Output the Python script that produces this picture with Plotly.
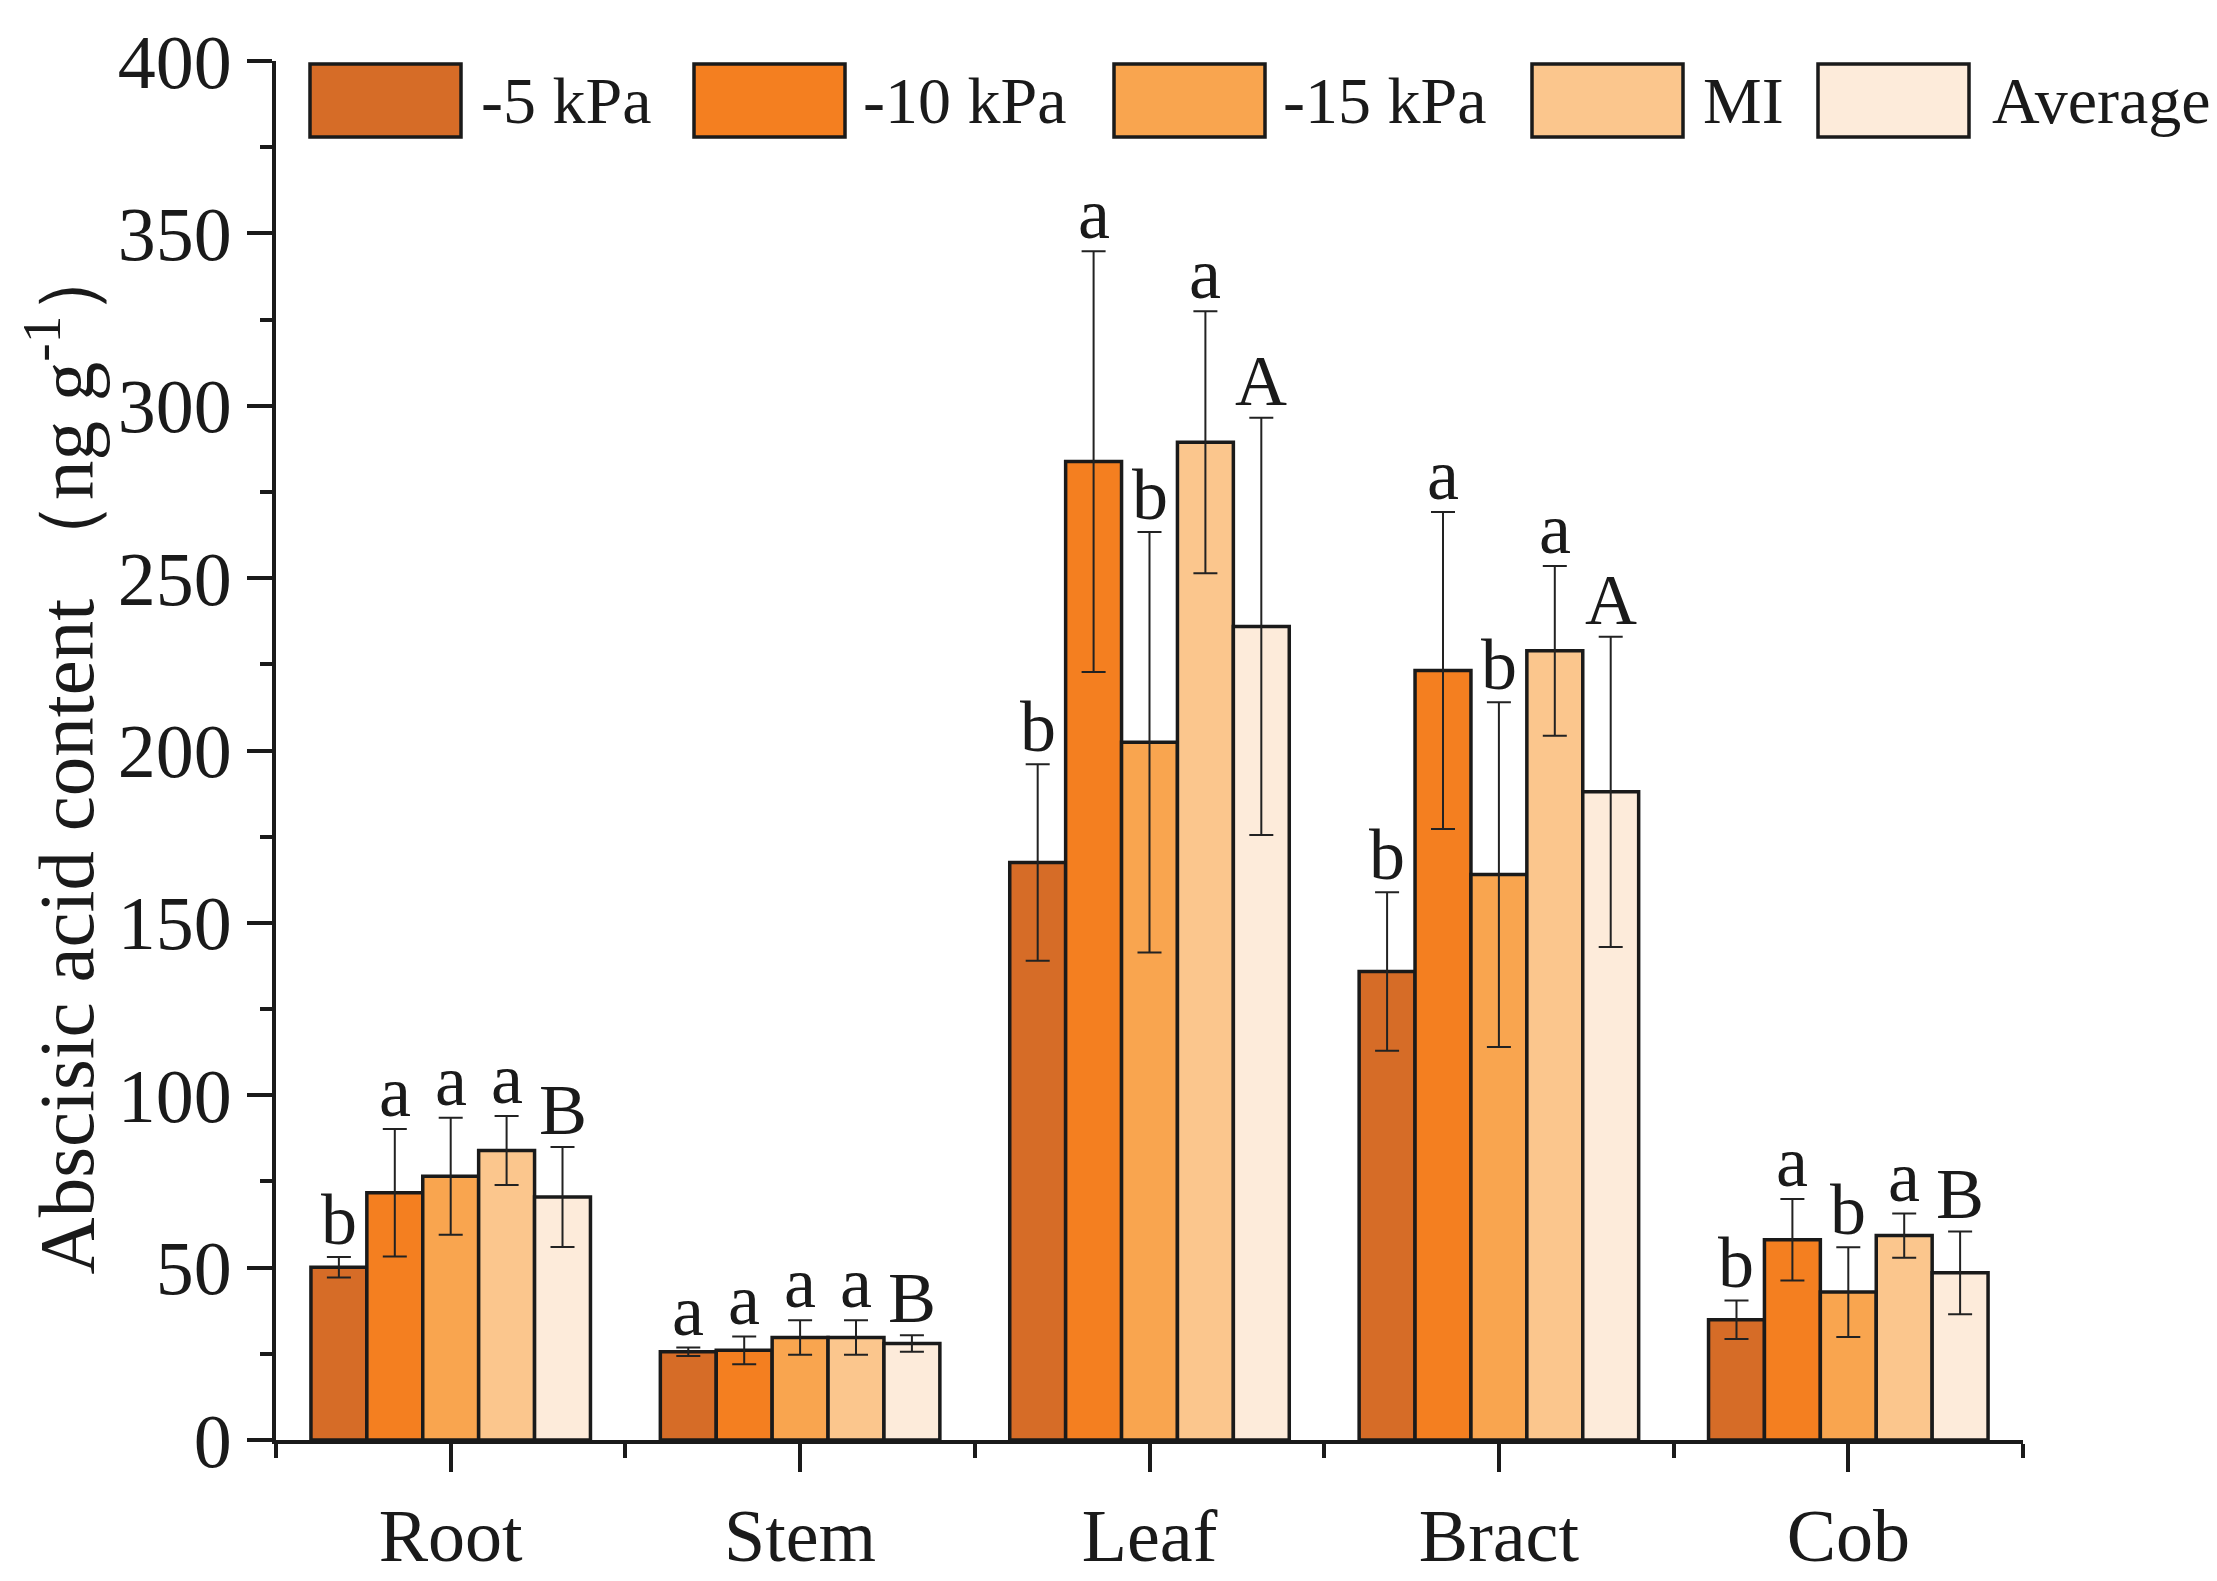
import plotly.graph_objects as go

# data
organs = ['Root', 'Stem', 'Leaf', 'Bract', 'Cob']
series = ['-5 kPa', '-10 kPa', '-15 kPa', 'MI', 'Average']

kpa5 = [50.1, 25.6, 167.5, 135.9, 34.9]
kpa5_err = [3.0, 1.2, 28.5, 23.0, 5.6]
kpa10 = [71.7, 26.0, 283.8, 223.2, 58.1]
kpa10_err = [18.5, 4.0, 61.0, 46.0, 11.8]
kpa15 = [76.5, 29.7, 202.4, 164.0, 42.9]
kpa15_err = [17.0, 5.0, 61.0, 50.0, 13.0]
mi = [84.0, 29.7, 289.4, 228.9, 59.3]
mi_err = [10.0, 5.0, 38.0, 24.6, 6.4]
average = [70.5, 28.0, 236.0, 188.0, 48.5]
average_err = [14.5, 2.4, 60.5, 45.0, 12.0]

letters_5 = ['b', 'a', 'b', 'b', 'b']
letters_10 = ['a', 'a', 'a', 'a', 'a']
letters_15 = ['a', 'a', 'b', 'b', 'b']
letters_mi = ['a', 'a', 'a', 'a', 'a']
letters_avg = ['B', 'B', 'A', 'A', 'B']

colors = ['#D66C27', '#F47F20', '#F9A54F', '#FBC68D', '#FDEBDA']

values = [kpa5, kpa10, kpa15, mi, average]
errors = [kpa5_err, kpa10_err, kpa15_err, mi_err, average_err]
letters = [letters_5, letters_10, letters_15, letters_mi, letters_avg]

FONT = 'Liberation Serif'
INK = '#1a1a1a'
W, H = 2217, 1581
L, R, T, B = 268, 202, 40, 127
xpos = list(range(len(organs)))


def px(x):
    return (x - L) / (W - L - R)


def py(y):
    return (H - B - y) / (H - T - B)


fig = go.Figure()
for j, name in enumerate(series):
    fig.add_trace(go.Bar(
        x=xpos, y=values[j], name=name,
        marker=dict(color=colors[j], line=dict(color=INK, width=3.5)),
        error_y=dict(type='data', array=errors[j], color='#222222',
                     thickness=2, width=12),
        showlegend=False,
    ))

annotations = []
# significance letters above error bars
for j in range(len(series)):
    for i in xpos:
        annotations.append(dict(
            x=i + (j - 2) * 0.16, y=values[j][i] + errors[j][i],
            xref='x', yref='y', text=letters[j][i], showarrow=False,
            yanchor='bottom', yshift=-5,
            font=dict(family=FONT, size=72, color=INK),
        ))

# hand-made legend with large swatches
box_left = [302, 686, 1106, 1524, 1810]
text_left = [471, 853, 1273, 1693, 1982]
shapes = []
for j, name in enumerate(series):
    shapes.append(dict(
        type='rect', xref='paper', yref='paper',
        x0=px(box_left[j]), x1=px(box_left[j] + 151),
        y0=py(118), y1=py(43),
        fillcolor=colors[j], line=dict(color=INK, width=3.5),
    ))
    annotations.append(dict(
        x=px(text_left[j]), y=py(81), xref='paper', yref='paper',
        text=name, showarrow=False, xanchor='left', yanchor='middle',
        font=dict(family=FONT, size=66, color=INK),
    ))

# y axis title
annotations.append(dict(
    x=px(52), y=py(752), xref='paper', yref='paper',
    text='Abscisic acid content （ng g<sup>-1</sup>）', textangle=-90,
    showarrow=False, xanchor='center', yanchor='middle',
    font=dict(family=FONT, size=79, color=INK),
))

fig.update_layout(
    width=W, height=H,
    margin=dict(l=L, r=R, t=T, b=B),
    paper_bgcolor='white', plot_bgcolor='white',
    barmode='group', bargap=0.2, bargroupgap=0,
    annotations=annotations, shapes=shapes,
    xaxis=dict(
        range=[-0.5, 4.5], tickvals=xpos, ticktext=organs,
        showgrid=False, zeroline=False,
        showline=True, linecolor=INK, linewidth=4,
        ticks='outside', ticklen=28, tickwidth=4, tickcolor=INK,
        minor=dict(tickvals=[-0.5, 0.5, 1.5, 2.5, 3.5, 4.5], ticks='outside',
                   ticklen=14, tickwidth=4, tickcolor=INK),
        tickfont=dict(family=FONT, size=74, color=INK),
    ),
    yaxis=dict(
        range=[0, 400], tickvals=[0, 50, 100, 150, 200, 250, 300, 350, 400],
        showgrid=False, zeroline=False,
        showline=True, linecolor=INK, linewidth=4,
        ticks='outside', ticklen=25, tickwidth=4, tickcolor=INK,
        ticklabeloverflow='allow',
        minor=dict(dtick=25, tick0=0, ticks='outside', ticklen=12,
                   tickwidth=4, tickcolor=INK, showgrid=False),
        tickfont=dict(family=FONT, size=76, color=INK),
    ),
)

fig.write_html('out.html')
